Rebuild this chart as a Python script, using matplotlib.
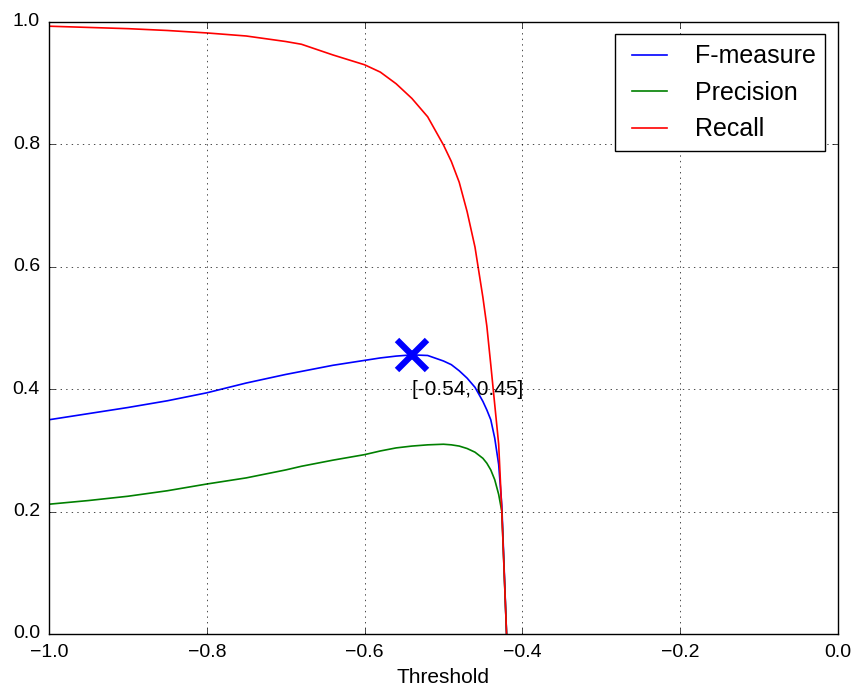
import matplotlib
matplotlib.use("Agg")
import matplotlib.pyplot as plt

plt.style.use("classic")
plt.rcParams["font.family"] = ["Liberation Sans", "DejaVu Sans"]
plt.rcParams["font.size"] = 14
plt.rcParams["xtick.major.pad"] = 7
plt.rcParams["ytick.major.pad"] = 6.5

threshold = [-1.0, -0.95, -0.9, -0.85, -0.8, -0.75, -0.7, -0.68, -0.64, -0.6,
             -0.58, -0.56, -0.54, -0.52, -0.50, -0.49, -0.48, -0.47, -0.46, -0.45,
             -0.445, -0.44, -0.435, -0.43, -0.426, -0.42]
f_measure = [0.350, 0.360, 0.370, 0.381, 0.394, 0.410, 0.424, 0.429, 0.439, 0.447,
             0.451, 0.454, 0.456, 0.455, 0.446, 0.440, 0.430, 0.418, 0.403, 0.380,
             0.366, 0.350, 0.320, 0.277, 0.21, 0.0]
precision = [0.212, 0.218, 0.225, 0.234, 0.245, 0.255, 0.268, 0.274, 0.284, 0.293,
             0.299, 0.304, 0.307, 0.309, 0.310, 0.309, 0.307, 0.303, 0.297, 0.287,
             0.279, 0.268, 0.252, 0.228, 0.20, 0.0]
recall = [0.993, 0.991, 0.989, 0.986, 0.982, 0.977, 0.968, 0.9635, 0.946, 0.930,
          0.918, 0.899, 0.875, 0.845, 0.799, 0.772, 0.738, 0.690, 0.632, 0.550,
          0.503, 0.440, 0.375, 0.31, 0.20, 0.0]

best_x, best_y = -0.54, 0.455
label_text = "[-0.54, 0.45]"

fig = plt.figure(figsize=(8.55, 6.85), dpi=100, facecolor="white")
ax = fig.add_axes([0.0573, 0.0745, 0.9227, 0.8935])
ax.plot(threshold, f_measure, color="b", lw=1.2, label="F-measure")
ax.plot(threshold, precision, color="g", lw=1.2, label="Precision")
ax.plot(threshold, recall, color="r", lw=1.2, label="Recall")
ax.plot([best_x], [best_y], "x", color="b", markersize=22, mew=4.5)
ax.text(best_x, best_y - 0.065, label_text, fontsize=15)

ax.set_xlim(-1.0, 0.0)
ax.set_ylim(0.0, 1.0)
ax.set_xlabel("Threshold", fontsize=15, labelpad=5)
ax.grid(True)
ax.legend(loc="upper right", fontsize=18)

fig.savefig("out.png", dpi=100, facecolor="white")
